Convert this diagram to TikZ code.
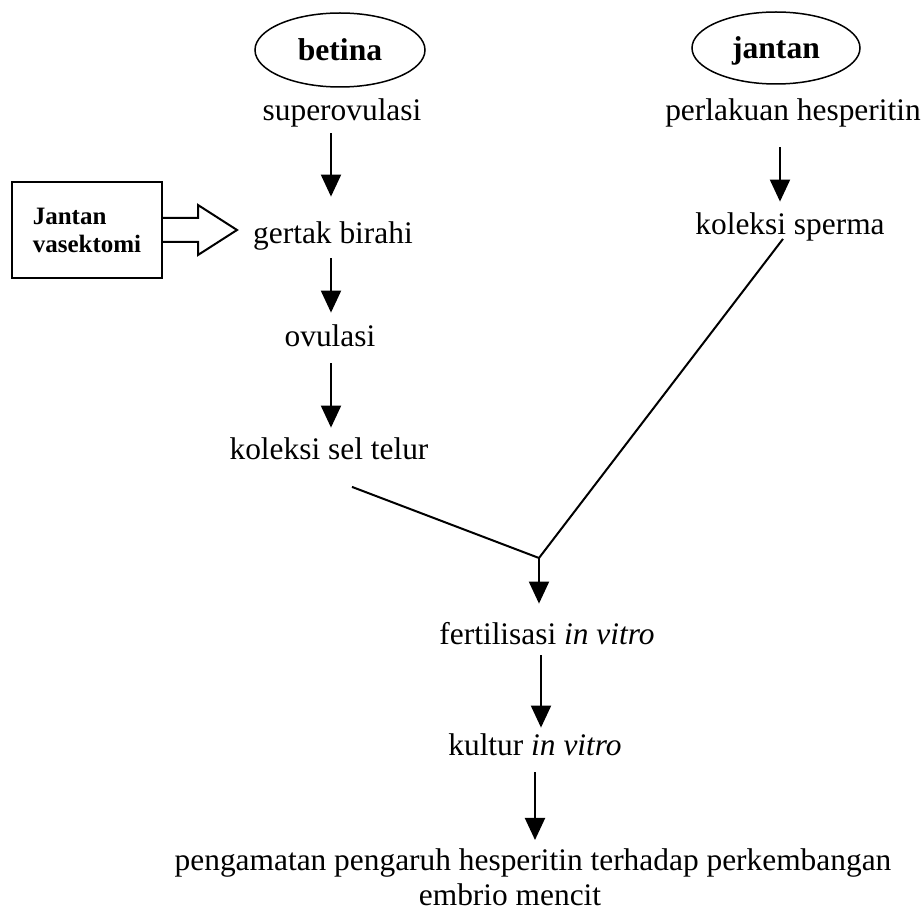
\documentclass[tikz,border=0pt]{standalone}
\usepackage{fontspec}
\setmainfont{Liberation Serif}
\usetikzlibrary{shapes.geometric,arrows.meta,calc}
\tikzset{
  lbl/.style={inner sep=0pt, text height=11pt, text depth=3.5pt, font=\fontsize{15.7}{18}\selectfont},
  ellnode/.style={draw, ellipse, line width=0.75pt, minimum width=85pt, minimum height=37pt, inner sep=0pt, text height=11pt, text depth=0pt, font=\fontsize{15.8}{18}\selectfont\bfseries},
  arr/.style={line width=1pt, -{Triangle[width=10pt,length=11pt]}},
  conn/.style={line width=1pt},
  boxnode/.style={draw, line width=1pt, minimum width=75pt, minimum height=48pt, align=left, font=\fontsize{12.5}{14}\selectfont\bfseries}
}
\begin{document}
\begin{tikzpicture}[x=0.5pt,y=-0.5pt]
\useasboundingbox (0,0) rectangle (923,909);
% left column
\node[ellnode] (bet) at (340,50) {betina};
\node[lbl] (sup) at (342,113) {superovulasi};
\node[lbl] (ger) at (333,236) {gertak birahi};
\node[lbl] (ovu) at (330,339) {ovulasi};
\node[lbl] (kst) at (329,452) {koleksi sel telur};
% right column
\node[ellnode, minimum width=84pt, minimum height=36pt] (jan) at (776,48) {jantan};
\node[lbl] (per) at (793,113) {perlakuan hesperitin};
\node[lbl] (ksp) at (790,227) {koleksi sperma};
% bottom
\node[lbl] (fer) at (547,637) {fertilisasi \textit{in vitro}};
\node[lbl] (kul) at (535,748) {kultur \textit{in vitro}};
\node[inner sep=0pt, align=center, font=\fontsize{15.7}{17.5}\selectfont, anchor=north] (pen) at (533,848) {pengamatan pengaruh hesperitin terhadap perkembangan\\embrio mencit\hspace*{23pt}};
% box with block arrow
\node[boxnode] (jv) at (87,230) {Jantan\\vasektomi};
\draw[line width=1pt, fill=white] (jv.east |- 0,218) -- (198,218) -- (198,205) -- (237,230) -- (198,255) -- (198,242) -- (jv.east |- 0,242);
% arrows
\draw[arr, shorten <=2.75pt, shorten >=12.25pt] (sup.south -| 331,0) -- (ger.north -| 331,0);
\draw[arr, shorten <=3.75pt, shorten >=5.75pt] (ger.south -| 331,0) -- (ovu.north -| 331,0);
\draw[arr, shorten <=4.75pt, shorten >=4.75pt] (ovu.south -| 331,0) -- (kst.north -| 331,0);
\draw[arr, shorten <=9.75pt, shorten >=5.25pt] (per.south -| 780,0) -- (ksp.north -| 780,0);
\coordinate (j) at (539,558);
\draw[conn] ($(kst.south)+(23,20)$) -- (j);
\draw[conn] ($(ksp.south)+(-7,-3)$) -- (j);
\draw[arr, shorten >=9.25pt] (j) -- (fer.north -| j);
\draw[arr, shorten <=1.75pt, shorten >=2.75pt] (fer.south -| 541,0) -- (kul.north -| 541,0);
\draw[arr, shorten <=4.75pt, shorten >=4pt] (kul.south) -- (pen.north -| kul.south);
\end{tikzpicture}
\end{document}
